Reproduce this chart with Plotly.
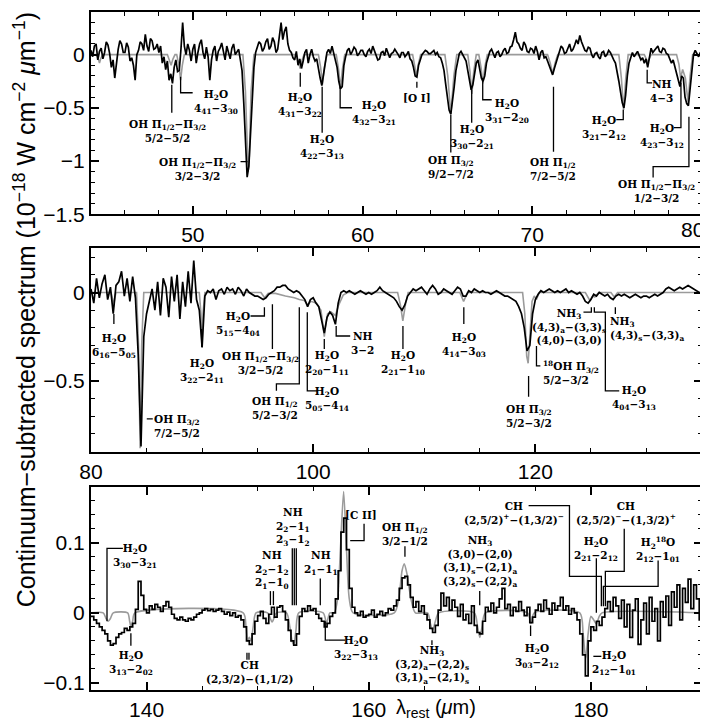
import plotly.graph_objects as go

# ---------------- DATA ----------------
# Top panel (44-80 um), observed spectrum sampled every 0.1 um starting at 44.0
TOP_START, TOP_STEP = 44.0, 0.1
top_flux = [
    0.04, -0.02, 0.08, 0.10, -0.05, 0.03, 0.06, -0.04, 0.02, 0.12, 0.09, 0.01, -0.12, -0.05, -0.22, -0.08, 0.05, 0.13, 0.10, 0.02,
    0.02, 0.11, 0.07, -0.06, -0.03, -0.10, -0.24, 0.00, 0.04, 0.12, 0.10, 0.04, 0.19, 0.08, 0.03, 0.15, 0.13, 0.05, 0.06, 0.10,
    0.02, 0.08, -0.08, -0.02, -0.14, -0.06, -0.24, -0.18, -0.27, -0.12, -0.05, -0.16, -0.15, 0.05, 0.30, 0.08, 0.00, 0.10, 0.04, -0.06,
    0.05, 0.10, -0.08, 0.02, 0.10, 0.14, 0.02, -0.04, 0.07, -0.02, -0.24, -0.05, 0.04, 0.08, -0.06, 0.03, 0.06, 0.11, 0.02, -0.05,
    0.08, 0.02, -0.04, 0.06, 0.10, 0.00, 0.03, 0.05, -0.05, -0.15, -0.45, -0.85, -1.15, -1.05, -0.75, -0.35, -0.12, 0.02, 0.08, 0.12,
    0.10, 0.03, 0.06, 0.12, 0.15, 0.05, 0.08, 0.16, 0.12, 0.02, 0.05, 0.18, 0.30, 0.14, 0.22, 0.26, 0.10, 0.04, 0.02, -0.03,
    -0.05, 0.03, -0.10, -0.04, -0.13, -0.06, 0.02, 0.05, -0.08, 0.00, 0.05, -0.02, -0.06, -0.04, -0.15, -0.22, -0.29, -0.18, -0.08, 0.02,
    0.05, 0.01, 0.08, 0.02, -0.05, -0.12, -0.25, -0.32, -0.30, -0.10, -0.02, 0.04, 0.06, 0.00, 0.03, 0.07, 0.05, -0.01, 0.01, 0.04,
    0.04, 0.00, -0.02, 0.03, 0.05, 0.01, 0.08, 0.03, 0.00, -0.05, -0.04, 0.02, 0.03, -0.01, 0.06, 0.02, -0.03, 0.01, 0.02, 0.05,
    0.03, 0.00, -0.03, 0.02, 0.02, -0.02, 0.00, 0.03, -0.04, -0.06, -0.12, -0.20, -0.21, -0.10, -0.05, 0.00, 0.02, 0.04, 0.03, 0.01,
    0.01, 0.03, 0.04, 0.00, 0.02, -0.02, -0.03, -0.08, -0.15, -0.28, -0.40, -0.52, -0.56, -0.45, -0.30, -0.15, -0.05, 0.01, 0.03, 0.00,
    -0.02, -0.06, -0.15, -0.26, -0.33, -0.28, -0.18, -0.08, -0.05, -0.12, -0.22, -0.25, -0.20, -0.08, -0.02, 0.03, 0.05, 0.00, -0.03, 0.02,
    0.03, -0.02, 0.00, 0.04, 0.06, 0.01, 0.02, 0.07, 0.08, 0.14, 0.21, 0.12, 0.10, 0.06, 0.04, 0.12, 0.09, 0.03, 0.02, 0.06,
    0.05, 0.01, 0.08, 0.03, -0.05, 0.02, 0.04, -0.03, -0.02, -0.06, -0.10, -0.15, -0.19, -0.13, -0.08, -0.02, 0.03, 0.08, 0.06, 0.01,
    0.02, 0.07, 0.10, 0.03, 0.05, 0.09, 0.14, 0.10, 0.18, 0.12, 0.08, 0.04, 0.03, 0.07, 0.06, 0.00, -0.03, 0.01, 0.02, -0.02,
    -0.04, 0.02, 0.03, -0.02, 0.00, 0.04, 0.02, -0.02, -0.05, -0.08, -0.15, -0.25, -0.35, -0.45, -0.50, -0.38, -0.20, -0.08, -0.03, 0.02,
    -0.02, 0.01, 0.03, -0.01, -0.05, -0.03, -0.08, -0.04, -0.12, -0.03, 0.06, 0.02, 0.04, 0.07, 0.08, 0.03, 0.02, 0.06, 0.05, 0.01,
    0.00, -0.04, -0.08, -0.05, -0.12, -0.18, -0.25, -0.30, -0.20, -0.22, -0.40, -0.46, -0.48, -0.30, -0.10, 0.00, 0.04, 0.01, -0.02, 0.02,
    0.03,
]
top_model_wl = [44.0, 44.3, 44.42, 44.5, 44.58, 44.7, 48.5, 48.62, 48.72, 48.82, 48.95,
                49.05, 49.18, 49.28, 49.38, 49.5, 52.95, 53.1, 53.2, 53.26, 53.33, 53.43, 53.6,
                56.1, 56.22, 56.32, 56.42, 56.55, 57.4, 57.53, 57.64, 57.75, 57.9,
                58.45, 58.59, 58.70, 58.81, 58.95, 62.95, 63.07, 63.18, 63.29, 63.42,
                64.85, 65.02, 65.2, 65.38, 65.55, 66.2, 66.33, 66.44, 66.55, 66.7,
                66.85, 66.98, 67.09, 67.2, 67.35, 70.9, 71.06, 71.2, 71.34, 71.5,
                75.1, 75.25, 75.38, 75.51, 75.65, 76.6, 76.8, 77.0,
                78.5, 78.64, 78.74, 78.86, 79.02, 79.18, 79.3, 79.45, 80.0]
top_model_flux = [0, 0, -0.035, -0.08, -0.035, 0, 0, -0.045, -0.10, -0.045, 0,
                  0, -0.10, -0.24, -0.10, 0, 0, -0.35, -0.95, -1.10, -0.95, -0.35, 0,
                  0, -0.06, -0.13, -0.06, 0, 0, -0.12, -0.28, -0.12, 0,
                  0, -0.14, -0.32, -0.14, 0, 0, -0.09, -0.20, -0.09, 0,
                  0, -0.20, -0.56, -0.20, 0, 0, -0.16, -0.37, -0.16, 0,
                  0, -0.12, -0.27, -0.12, 0, 0, -0.08, -0.18, -0.08, 0,
                  0, -0.22, -0.52, -0.22, 0, 0, -0.07, 0,
                  0, -0.09, -0.22, -0.14, -0.22, -0.45, -0.20, 0, 0]
top_tick_vals = [50, 60, 70, 80]
top_tick_text = ["50", "60", "70", ""]   # the "80" at the frame edge is drawn as a right-aligned note

# Middle panel (80-135 um), sampled every 0.25 um starting at 80.0
MID_START, MID_STEP = 80.0, 0.25
mid_flux = [
    0.02, -0.06, 0.08, -0.03, 0.05, 0.10, -0.04, 0.03, -0.12, 0.04,
    0.06, 0.12, -0.02, 0.08, -0.05, 0.09, -0.03, -0.35, -0.87, -0.25,
    -0.12, -0.05, 0.02, -0.10, 0.06, -0.13, 0.08, 0.03, -0.14, 0.09,
    -0.05, 0.10, -0.15, 0.06, -0.08, 0.12, -0.06, 0.18, -0.04, -0.10,
    -0.31, -0.02, 0.01, 0.00, 0.02, -0.04, 0.01, 0.02, -0.01, 0.03,
    0.01, 0.02, -0.01, 0.03, 0.01, -0.02, 0.02, 0.00, -0.01, -0.02,
    -0.02, -0.03, -0.04, -0.03, -0.01, 0.00, 0.01, 0.03, 0.03, 0.04,
    0.04, 0.02, 0.01, 0.00, 0.01, 0.00, -0.02, -0.04, -0.08, -0.04,
    -0.03, -0.06, -0.08, -0.15, -0.23, -0.14, -0.11, -0.13, -0.18, -0.06,
    0.00, 0.01, 0.00, 0.01, 0.00, -0.01, 0.00, 0.01, 0.00, -0.01,
    0.00, -0.01, 0.00, 0.01, 0.03, 0.01, 0.00, -0.01, -0.02, -0.03,
    -0.05, -0.08, -0.10, -0.07, -0.02, 0.00, 0.02, 0.01, 0.02, 0.03,
    0.01, -0.01, 0.02, 0.04, 0.02, -0.01, 0.00, 0.02, 0.01, 0.00,
    -0.01, 0.01, 0.03, 0.02, -0.02, -0.02, 0.01, 0.00, 0.02, 0.01,
    0.00, 0.01, 0.00, 0.00, -0.01, 0.00, 0.01, 0.00, -0.01, -0.02,
    -0.02, -0.03, -0.04, -0.05, -0.08, -0.12, -0.20, -0.33, -0.30, -0.12,
    -0.04, -0.01, 0.01, 0.00, 0.01, 0.02, 0.01, 0.00, 0.01, 0.00,
    0.01, 0.02, 0.00, 0.01, 0.00, -0.01, 0.00, -0.02, -0.05, -0.06,
    -0.04, -0.01, -0.02, 0.00, -0.01, -0.02, -0.01, -0.03, -0.04, -0.02,
    -0.01, -0.02, -0.01, -0.02, -0.03, -0.02, -0.01, -0.02, -0.03, -0.02,
    -0.02, -0.03, -0.02, -0.01, -0.02, -0.01, 0.00, 0.02, 0.03, 0.02,
    0.01, 0.02, 0.03, 0.02, 0.03, 0.04, 0.03, 0.02, 0.01, 0.00,
    0.00,
]
mid_model_wl = [80.0, 81.8, 81.93, 82.03, 82.13, 82.25, 84.1, 84.28, 84.42, 84.56, 84.75,
                89.75, 89.9, 89.99, 90.08, 90.25, 95.3, 95.63, 95.95,
                96.6, 97.5, 98.3, 98.75, 99.2, 99.49, 99.8, 100.3, 100.7, 100.85, 101.0,
                101.15, 101.3, 101.6, 102.0, 102.3, 102.7, 103.1,
                107.6, 107.85, 108.07, 108.3, 108.55, 113.2, 113.54, 113.9,
                118.85, 119.05, 119.22, 119.35, 119.5, 119.7, 119.9, 120.1, 120.35,
                124.5, 124.9, 125.15, 125.35, 125.7, 126.8, 127.1, 127.4, 135.0]
mid_model_flux = [0, 0, -0.035, -0.08, -0.035, 0, 0, -0.3, -0.88, -0.3, 0,
                  0, -0.12, -0.30, -0.12, 0, 0, -0.03, -0.005,
                  -0.005, -0.02, -0.03, -0.04, -0.045, -0.07, -0.05, -0.06, -0.10, -0.17, -0.25,
                  -0.17, -0.12, -0.11, -0.13, -0.07, -0.015, 0,
                  0, -0.07, -0.16, -0.07, 0, 0, -0.05, 0,
                  0, -0.12, -0.36, -0.40, -0.24, -0.05, -0.02, -0.04, 0,
                  0, -0.045, -0.02, -0.025, 0, 0, -0.025, 0, 0]

# Bottom panel (135-190 um), sampled every 0.25 um starting at 135.0
BOT_START, BOT_STEP = 135.0, 0.25
bot_flux = [
    -0.005, -0.010, -0.015, -0.020, -0.025, -0.030, -0.040, -0.046, -0.044, -0.035,
    -0.030, -0.028, -0.022, -0.025, -0.020, -0.015, 0.005, 0.045, 0.025, 0.005,
    0.000, 0.010, 0.005, 0.012, 0.008, 0.002, 0.010, 0.016, 0.008, -0.002,
    -0.008, -0.010, -0.006, -0.010, -0.012, -0.008, -0.010, -0.006, -0.002, 0.000,
    0.004, 0.006, 0.003, 0.005, 0.002, 0.004, 0.006, 0.002, -0.002, 0.001,
    -0.004, 0.000, -0.006, -0.004, -0.010, -0.020, -0.040, -0.045, -0.030, -0.012,
    -0.004, 0.002, -0.008, -0.015, -0.002, 0.008, -0.006, 0.008, 0.010, 0.002,
    -0.010, -0.025, -0.040, -0.046, -0.030, -0.005, 0.006, 0.002, 0.010, 0.004,
    0.006, -0.002, -0.008, -0.012, -0.020, -0.015, -0.005, 0.000, 0.020, 0.060,
    0.115, 0.135, 0.090, 0.035, 0.008, 0.000, -0.004, 0.002, -0.006, -0.004,
    -0.002, 0.004, -0.006, -0.002, 0.002, -0.004, 0.000, 0.006, 0.004, 0.010,
    0.018, 0.035, 0.050, 0.052, 0.040, 0.022, 0.008, 0.016, 0.002, 0.010,
    -0.002, -0.010, -0.022, -0.028, -0.018, 0.004, 0.028, 0.010, 0.022, 0.004,
    0.018, 0.008, -0.005, 0.012, -0.010, -0.002, -0.015, 0.010, -0.018, -0.028,
    -0.030, -0.012, 0.008, 0.002, 0.014, 0.000, 0.008, 0.020, 0.035, 0.006,
    0.012, -0.004, 0.008, 0.002, 0.016, 0.004, -0.004, 0.008, -0.014, -0.006,
    0.004, 0.012, 0.002, 0.018, 0.006, -0.002, 0.014, 0.004, 0.010, 0.022,
    0.004, 0.010, -0.002, 0.006, 0.000, -0.010, -0.030, -0.060, -0.090, -0.040,
    -0.020, -0.025, -0.012, -0.018, -0.006, 0.006, 0.016, 0.002, 0.022, 0.010,
    -0.008, 0.018, -0.020, 0.012, -0.035, 0.004, 0.020, -0.045, -0.010, 0.014,
    -0.030, 0.022, -0.012, 0.006, -0.040, 0.016, -0.006, 0.024, -0.018, 0.030,
    0.008, 0.040, -0.010, 0.035, 0.015, 0.048, 0.006, 0.040, 0.020, -0.010,
    0.020,
]
bot_model_wl = [135.0, 136.1, 136.35, 136.55, 136.75, 137.0, 138.3, 138.48, 138.6, 138.75, 138.95,
                148.7, 148.95, 149.1, 149.25, 149.4, 149.6, 149.85, 150.9, 151.3, 151.7,
                152.6, 152.9, 153.1, 153.25, 153.45, 153.7, 155.9, 156.2, 156.5,
                156.9, 157.2, 157.45, 157.74, 158.0, 158.25, 158.6,
                162.3, 162.7, 163.0, 163.2, 163.45, 163.8, 164.2,
                165.3, 165.55, 165.75, 166.0, 166.3, 169.5, 169.8, 170.0, 170.2, 170.5,
                174.3, 174.6, 174.9, 179.0, 179.3, 179.53, 179.75, 180.0, 180.25, 180.49,
                180.75, 181.0, 190.0]
bot_model_flux = [0, 0, -0.008, -0.012, -0.008, 0, 0, -0.012, -0.02, -0.012, 0,
                  0, -0.02, -0.04, -0.035, -0.04, -0.02, 0, 0, -0.013, 0,
                  0, -0.02, -0.04, -0.045, -0.025, 0, 0, -0.015, 0,
                  0, 0.02, 0.09, 0.173, 0.09, 0.02, 0,
                  0, 0.02, 0.06, 0.07, 0.055, 0.02, 0,
                  0, -0.015, -0.025, -0.012, 0, 0, -0.02, -0.035, -0.02, 0,
                  0, -0.015, 0, 0, -0.03, -0.065, -0.03, -0.005, -0.01, -0.016,
                  -0.005, 0, 0]

# ---------------- LINE IDENTIFICATIONS ----------------
H2O = "H<sub>2</sub>O"
def lv(a, b):
    return f"{a[0]}<sub>{a[1:]}</sub>−{b[0]}<sub>{b[1:]}</sub>"

top_labels = [
    ("OH Π<sub>1/2</sub>−Π<sub>3/2</sub><br>5/2−5/2", 48.52, -0.72, "center"),
    (f"{H2O}<br>{lv('441','330')}", 51.34, -0.447, "center"),
    ("OH Π<sub>1/2</sub>−Π<sub>3/2</sub><br>3/2−3/2", 50.28, -1.075, "center"),
    (f"{H2O}<br>{lv('431','322')}", 56.33, -0.471, "center"),
    (f"{H2O}<br>{lv('422','313')}", 57.62, -0.869, "center"),
    (f"{H2O}<br>{lv('432','321')}", 60.68, -0.55, "center"),
    ("[O I]", 63.2, -0.405, "center"),
    ("OH Π<sub>3/2</sub><br>9/2−7/2", 65.2, -1.056, "center"),
    (f"{H2O}<br>{lv('330','221')}", 66.43, -0.77, "center"),
    (f"{H2O}<br>{lv('331','220')}", 68.49, -0.527, "center"),
    ("OH Π<sub>1/2</sub><br>7/2−5/2", 71.25, -1.075, "center"),
    (f"{H2O}<br>{lv('321','212')}", 74.24, -0.691, "center"),
    ("NH<br>4−3", 77.59, -0.34, "center"),
    (f"{H2O}<br>{lv('423','312')}", 77.65, -0.766, "center"),
    ("OH Π<sub>1/2</sub>−Π<sub>3/2</sub><br>1/2−3/2", 77.29, -1.285, "center"),
]
top_leaders = [
    [(48.76, -0.284), (48.76, -0.546)],
    [(49.28, -0.209), (49.28, -0.358), (49.99, -0.358)],
    [(52.81, -1.005), (53.22, -1.005)],
    [(56.33, -0.171), (56.33, -0.302)],
    [(57.62, -0.302), (57.62, -0.733)],
    [(58.68, -0.302), (58.68, -0.499), (59.38, -0.499)],
    [(63.2, -0.255), (63.2, -0.312)],
    [(65.2, -0.564), (65.2, -0.92)],
    [(66.43, -0.33), (66.43, -0.639)],
    [(67.08, -0.218), (67.08, -0.424), (67.61, -0.424)],
    [(71.25, -0.302), (71.25, -0.911)],
    [(75.36, -0.518), (75.36, -0.611), (74.95, -0.611)],
    [(76.77, -0.143), (76.77, -0.265), (77.06, -0.265)],
    [(78.76, -0.265), (78.76, -0.686), (78.35, -0.686)],
    [(79.23, -0.583), (79.23, -1.051), (77.12, -1.051), (77.12, -1.154)],
]

mid_labels = [
    (f"{H2O}<br>{lv('616','505')}", 82.06, -0.302, "center"),
    ("OH Π<sub>3/2</sub><br>7/2−5/2", 87.72, -0.753, "center"),
    (f"{H2O}<br>{lv('322','211')}", 89.96, -0.443, "center"),
    (f"{H2O}<br>{lv('515','404')}", 93.19, -0.178, "center"),
    ("OH Π<sub>1/2</sub>−Π<sub>3/2</sub><br>3/2−5/2", 95.25, -0.401, "center"),
    ("OH Π<sub>1/2</sub><br>5/2−3/2", 96.6, -0.652, "center"),
    (f"{H2O}<br>{lv('505','414')}", 101.27, -0.601, "center"),
    (f"{H2O}<br>{lv('220','111')}", 101.27, -0.401, "center"),
    ("NH<br>3−2", 104.4, -0.283, "center"),
    (f"{H2O}<br>{lv('221','110')}", 108.08, -0.401, "center"),
    (f"{H2O}<br>{lv('414','303')}", 113.56, -0.294, "center"),
    ("OH Π<sub>3/2</sub><br>5/2−3/2", 119.39, -0.70, "center"),
    ("<sup>18</sup>OH Π<sub>3/2</sub><br>5/2−3/2", 120.55, -0.455, "left"),
    ("NH<sub>3</sub><br>(4,3)<sub>a</sub>−(3,3)<sub>s</sub><br>(4,0)−(3,0)", 123.07, -0.192, "center"),
    (f"{H2O}<br>{lv('404','313')}", 128.9, -0.598, "center"),
    ("NH<sub>3</sub><br>(4,3)<sub>s</sub>−(3,3)<sub>a</sub>", 126.57, -0.204, "left"),
]
mid_leaders = [
    [(82.06, -0.122), (82.06, -0.178)],
    [(85.02, -0.714), (85.56, -0.714)],
    [(89.96, -0.207), (89.96, -0.308)],
    [(94.36, -0.133), (95.61, -0.133), (95.61, -0.083)],
    [(96.33, -0.066), (96.33, -0.319)],
    [(98.75, -0.083), (98.75, -0.517), (96.69, -0.517), (96.69, -0.556)],
    [(99.47, -0.111), (99.47, -0.556), (100.37, -0.556)],
    [(101.0, -0.263), (101.0, -0.319)],
    [(102.07, -0.19), (102.07, -0.246), (103.33, -0.246)],
    [(108.08, -0.19), (108.08, -0.319)],
    [(113.56, -0.083), (113.56, -0.178)],
    [(119.39, -0.472), (119.39, -0.59)],
    [(120.1, -0.302), (120.1, -0.415), (120.45, -0.415)],
    [(124.33, -0.111), (125.04, -0.111), (125.04, -0.083)],
    [(125.31, -0.083), (125.31, -0.111), (126.3, -0.111), (126.3, -0.556), (127.55, -0.556)],
    [(127.2, -0.083), (127.2, -0.122)],
]

bot_labels = [
    (f"{H2O}<br>{lv('330','321')}", 138.95, 0.081, "center"),
    (f"{H2O}<br>{lv('313','202')}", 138.59, -0.071, "center"),
    ("CH<br>(2,3/2)−(1,1/2)", 149.27, -0.085, "center"),
    ("NH<br>2<sub>2</sub>−1<sub>2</sub><br>2<sub>1</sub>−1<sub>0</sub>", 151.33, 0.061, "center"),
    ("NH<br>2<sub>2</sub>−1<sub>1</sub><br>2<sub>3</sub>−1<sub>2</sub>", 153.2, 0.122, "center"),
    ("NH<br>2<sub>1</sub>−1<sub>1</sub>", 155.73, 0.071, "center"),
    (f"{H2O}<br>{lv('322','313')}", 158.87, -0.05, "center"),
    ("[C II]", 159.32, 0.139, "center"),
    ("OH Π<sub>1/2</sub><br>3/2−1/2", 163.26, 0.113, "center"),
    ("NH<sub>3</sub><br>(3,2)<sub>a</sub>−(2,2)<sub>s</sub><br>(3,1)<sub>a</sub>−(2,1)<sub>s</sub>", 165.69, -0.074, "center"),
    ("NH<sub>3</sub><br>(3,0)−(2,0)<br>(3,1)<sub>s</sub>−(2,1)<sub>a</sub><br>(3,2)<sub>s</sub>−(2,2)<sub>a</sub>", 169.99, 0.073, "center"),
    (f"{H2O}<br>{lv('303','212')}", 175.11, -0.061, "center"),
    (f"{H2O}<br>{lv('212','101')}", 182.1, -0.072, "center"),
    ("CH<br>(2,5/2)<sup>+</sup>−(1,3/2)<sup>−</sup>", 173.04, 0.142, "center"),
    (f"{H2O}<br>{lv('221','212')}", 180.49, 0.091, "center"),
    ("CH<br>(2,5/2)<sup>−</sup>−(1,3/2)<sup>+</sup>", 183.18, 0.142, "center"),
    (f"H<sub>2</sub><sup>18</sup>O<br>{lv('212','101')}", 186.06, 0.091, "center"),
]
bot_leaders = [
    [(136.44, -0.012), (136.44, 0.092), (137.87, 0.092)],
    [(138.59, -0.029), (138.59, -0.047)],
    [(149.04, -0.057), (149.04, -0.067)],
    [(149.22, -0.057), (149.22, -0.067)],
    [(151.15, 0.031), (151.15, 0.011)],
    [(151.42, 0.031), (151.42, 0.011)],
    [(153.12, 0.092), (153.12, 0.011)],
    [(153.30, 0.092), (153.30, 0.011)],
    [(153.48, 0.092), (153.48, 0.011)],
    [(155.64, 0.049), (155.64, 0.011)],
    [(156.09, -0.012), (156.09, -0.039), (157.88, -0.039)],
    [(158.33, 0.103), (159.58, 0.103), (159.58, 0.127)],
    [(163.26, 0.095), (163.26, 0.080)],
    [(165.69, -0.039), (165.69, -0.046)],
    [(169.99, 0.031), (169.99, 0.011)],
    [(174.57, -0.018), (174.57, -0.033)],
    [(180.22, -0.062), (180.94, -0.062)],
    [(174.39, 0.153), (178.07, 0.153), (178.07, 0.052), (180.94, 0.052), (180.94, 0.0094)],
    [(180.49, 0.078), (180.49, 0.0)],
    [(183.0, 0.120), (183.0, 0.059), (181.3, 0.059), (181.3, 0.0094)],
    [(186.05, 0.0748), (186.05, 0.0378), (181.12, 0.0378), (181.12, 0.0094)],
]

# ---------------- FIGURE ----------------
def grid(start, step, n):
    return [round(start + i * step, 4) for i in range(n)]

top_wl = grid(TOP_START, TOP_STEP, len(top_flux))
mid_wl = grid(MID_START, MID_STEP, len(mid_flux))
bot_wl = grid(BOT_START, BOT_STEP, len(bot_flux))

GRAY = "#9b9b9b"
fig = go.Figure()
panels = [
    ("x", "y", top_wl, top_flux, top_model_wl, top_model_flux, "linear", "linear"),
    ("x2", "y2", mid_wl, mid_flux, mid_model_wl, mid_model_flux, "linear", "linear"),
    ("x3", "y3", bot_wl, bot_flux, bot_model_wl, bot_model_flux, "hv", "spline"),
]
for xa, ya, wl, fl, mwl, mfl, shp, mshp in panels:
    fig.add_trace(go.Scatter(x=mwl, y=mfl, xaxis=xa, yaxis=ya, mode="lines",
                             line=dict(color=GRAY, width=1.6, shape=mshp, smoothing=0.7),
                             hoverinfo="skip", showlegend=False))
    fig.add_trace(go.Scatter(x=wl, y=fl, xaxis=xa, yaxis=ya, mode="lines",
                             line=dict(color="black", width=1.7, shape=shp),
                             showlegend=False))

LABEL_FONT = dict(family="DejaVu Serif", size=10.5, color="black", weight="bold")
shapes, annotations = [], []
for xa, ya, labels, leaders in [("x", "y", top_labels, top_leaders),
                                ("x2", "y2", mid_labels, mid_leaders),
                                ("x3", "y3", bot_labels, bot_leaders)]:
    for text, lx, ly, anc in labels:
        annotations.append(dict(text=text, x=lx, y=ly, xref=xa, yref=ya, showarrow=False,
                                xanchor=anc, yanchor="middle", align=anc, font=LABEL_FONT))
    for pts in leaders:
        path = "M " + " L ".join(f"{px},{py}" for px, py in pts)
        shapes.append(dict(type="path", path=path, xref=xa, yref=ya,
                           line=dict(color="black", width=1.3)))

TICKFONT = dict(family="Liberation Sans", size=21, color="black")

annotations.append(dict(
    text="Continuum−subtracted spectrum (10<sup>−18</sup> W cm<sup>−2</sup> <i>μ</i>m<sup>−1</sup>)",
    xref="paper", yref="paper", x=-0.108, y=0.56, textangle=-90, showarrow=False,
    xanchor="center", yanchor="middle",
    font=dict(family="Liberation Sans", size=25, color="black")))
annotations.append(dict(
    text="λ<sub>rest</sub> (<i>μ</i>m)", xref="paper", yref="paper", x=0.565, y=-0.028,
    showarrow=False, xanchor="center", yanchor="middle",
    font=dict(family="Liberation Sans", size=20, color="black")))
# "80" tick label of the top panel, kept just inside the page edge
annotations.append(dict(
    text="80", xref="x", yref="paper", x=80, y=0.7015, xanchor="right", yanchor="top",
    xshift=4, yshift=-2, showarrow=False, font=TICKFONT))

def xaxis(rng, tick0, dtick, mdtick, anchor):
    return dict(range=rng, tick0=tick0, dtick=dtick, tickmode="linear", anchor=anchor,
                ticks="inside", ticklen=8, tickwidth=1.5, tickcolor="black",
                minor=dict(tick0=tick0, dtick=mdtick, ticks="inside", ticklen=4,
                           tickwidth=1.2, tickcolor="black", showgrid=False),
                showline=True, linecolor="black", linewidth=2, mirror="allticks",
                showgrid=False, zeroline=False, tickfont=TICKFONT)

def yaxis(rng, dom, tick0, dtick, mdtick, anchor):
    d = xaxis(rng, tick0, dtick, mdtick, anchor)
    d["domain"] = dom
    return d

top_x = xaxis([44, 80], 50, 10, 2, "y")
top_x.update(tickmode="array", tickvals=top_tick_vals, ticktext=top_tick_text)

fig.update_layout(
    width=708, height=723,
    margin=dict(l=83, r=14, t=2, b=41),
    paper_bgcolor="white", plot_bgcolor="white",
    xaxis=top_x,
    yaxis=yaxis([-1.5, 0.4], [0.7015, 1.0], 0, 0.5, 0.1, "x"),
    xaxis2=xaxis([80, 135], 80, 20, 5, "y2"),
    yaxis2=yaxis([-0.9, 0.25], [0.3515, 0.6515], 0, 0.5, 0.1, "x2"),
    xaxis3=xaxis([135, 190], 140, 20, 5, "y3"),
    yaxis3=yaxis([-0.11, 0.18], [0.0, 0.3], 0, 0.1, 0.02, "x3"),
    shapes=shapes, annotations=annotations,
    showlegend=False,
)

fig.write_html("out.html")
